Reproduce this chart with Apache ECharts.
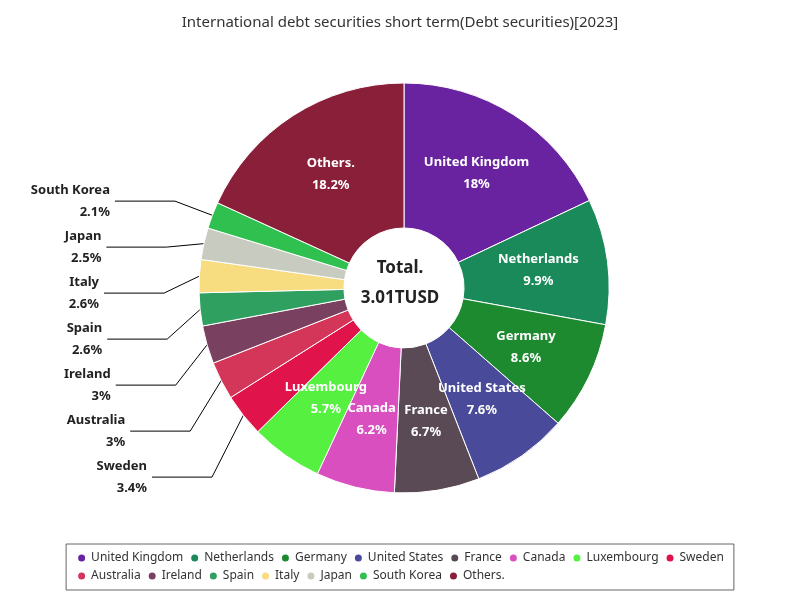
<!DOCTYPE html>
<html><head><meta charset="utf-8">
<script src="https://cdn.jsdelivr.net/npm/echarts@6/dist/echarts.min.js"></script>
<style>html,body{margin:0;padding:0;}#c{width:800px;height:600px;}</style>
</head><body><div id="c"></div>
<script>
const categories=["United Kingdom","Netherlands","Germany","United States","France","Canada","Luxembourg","Sweden","Australia","Ireland","Spain","Italy","Japan","South Korea","Others."];
const values=[18,9.9,8.6,7.6,6.7,6.2,5.7,3.4,3,3,2.6,2.6,2.5,2.1,18.2];
const colors=["#6a23a0","#1a8a5a","#1e8a30","#4a4a9a","#5a4a55","#d94fc0","#55f040","#e0144a","#d4365a","#7a4060","#30a060","#f8dc80","#c8ccc0","#30c050","#8a1f3a"];
const totalLabel="3.01TUSD";
const outside=new Set(["Sweden","Australia","Ireland","Spain","Italy","Japan","South Korea"]);
const F='"Noto Sans", sans-serif';
const data=categories.map((n,i)=>{
  const d={name:n,value:values[i],itemStyle:{color:colors[i]}};
  if(outside.has(n)){
    d.label={position:'outside',color:'#222',fontWeight:'bold',fontSize:13,lineHeight:22,formatter:'{b}\n{c}%',alignTo:'none',overflow:'none',width:200,align:'right'};
    d.labelLine={show:true,length:40,length2:60,lineStyle:{color:'#000'}};
  }
  return d;
});
const chart=echarts.init(document.getElementById('c'));
chart.setOption({
  textStyle:{fontFamily:F},
  title:{text:'International debt securities short term(Debt securities)[2023]',left:'center',top:10,textStyle:{fontSize:15,fontWeight:'normal',color:'#333',fontFamily:F}},
  legend:{bottom:10,left:'center',width:660,borderColor:'#666',borderWidth:1,padding:[8,10],itemWidth:9,itemHeight:9,icon:'circle',itemGap:6,textStyle:{fontSize:12,color:'#333',fontFamily:F}},
  graphic:[{type:'text',left:'center',top:260,style:{text:'Total.',fontSize:17,fontWeight:'bold',fill:'#222',fontFamily:F}},
           {type:'text',left:'center',top:290,style:{text:totalLabel,fontSize:17,fontWeight:'bold',fill:'#222',fontFamily:F}}],
  series:[{type:'pie',center:[404,288],radius:[60,205],startAngle:90,clockwise:true,
    itemStyle:{borderColor:'#fff',borderWidth:1},
    labelLayout:{hideOverlap:false},
    label:{position:'inside',color:'#fff',fontWeight:'bold',fontSize:13,lineHeight:22,formatter:'{b}\n{c}%',fontFamily:F},
    labelLine:{show:false},
    data:data}]
});
</script></body></html>
